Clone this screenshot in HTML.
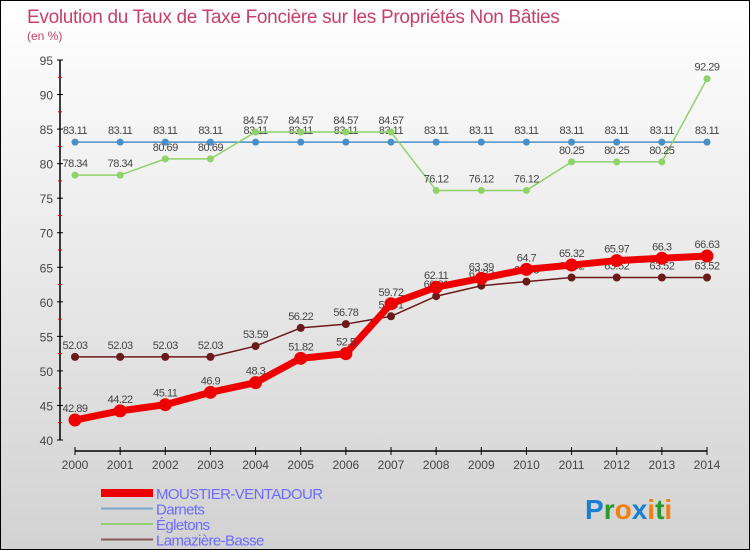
<!DOCTYPE html>
<html><head><meta charset="utf-8"><style>
html,body{margin:0;padding:0}
body{width:750px;height:550px;overflow:hidden;font-family:"Liberation Sans",sans-serif}
#wrap{position:relative;width:748px;height:548px;border:1px solid #000;background:linear-gradient(#fff,#d2d2d2)}
</style></head><body>
<div id="wrap">
<svg id="chart" width="748" height="548" style="position:absolute;left:0;top:0"></svg>
</div>
<script>
const years=["2000","2001","2002","2003","2004","2005","2006","2007","2008","2009","2010","2011","2012","2013","2014"];
const moustier=[42.89,44.22,45.11,46.9,48.3,51.82,52.5,59.72,62.11,63.39,64.7,65.32,65.97,66.3,66.63];
const darnets=[83.11,83.11,83.11,83.11,83.11,83.11,83.11,83.11,83.11,83.11,83.11,83.11,83.11,83.11,83.11];
const egletons=[78.34,78.34,80.69,80.69,84.57,84.57,84.57,84.57,76.12,76.12,76.12,80.25,80.25,80.25,92.29];
const lamaziere=[52.03,52.03,52.03,52.03,53.59,56.22,56.78,57.91,60.81,62.33,62.93,63.52,63.52,63.52,63.52];
const yTicks=[40,45,50,55,60,65,70,75,80,85,90,95];
const NS="http://www.w3.org/2000/svg";
const svg=document.getElementById('chart');
const X=i=>74+i*(632/14);
const Y=v=>439-(v-40)*(380/55);
function mk(t,a,p){const e=document.createElementNS(NS,t);for(const k in a)e.setAttribute(k,a[k]);(p||svg).appendChild(e);return e;}
function txt(x,y,s,a){const e=mk('text',Object.assign({x:x,y:y},a));e.textContent=s;return e;}
let t=txt(26,22,"Evolution du Taux de Taxe Foncière sur les Propriétés Non Bâties",{fill:"#c8406a","font-size":"19","letter-spacing":"-0.3"});

t=txt(26,39,"(en %)",{fill:"#c8406a","font-size":"12"});

let ax=mk('line',{x1:59,y1:Y(95),x2:59,y2:Y(40),stroke:"#000","stroke-width":1.5});

yTicks.forEach(v=>{mk('line',{x1:56,y1:Y(v),x2:62,y2:Y(v),stroke:"#000"});
 if(v<95)mk('line',{x1:57,y1:Y(v+2.5),x2:61,y2:Y(v+2.5),stroke:"#e00"});
 const l=txt(52,Y(v)+5,String(v),{fill:"#444","font-size":"12","text-anchor":"end"});
 });
ax=mk('line',{x1:X(0),y1:450,x2:X(14),y2:450,stroke:"#000","stroke-width":1.5});

years.forEach((y,i)=>{mk('line',{x1:X(i),y1:446,x2:X(i),y2:454,stroke:"#000"});
 const l=txt(X(i),468,y,{fill:"#444","font-size":"12","text-anchor":"middle"});
 });
function series(vals,color,w,r,name){
 const g=mk('g',{});
 mk('polyline',{points:vals.map((v,i)=>X(i)+","+Y(v)).join(" "),fill:"none",stroke:color,"stroke-width":w,"stroke-linejoin":"round"},g);
 vals.forEach((v,i)=>{const c=mk('circle',{cx:X(i),cy:Y(v),r:r,fill:color},g);
  
  const l=txt(X(i),Y(v)-8,String(v),{fill:"#444","font-size":"11","text-anchor":"middle","letter-spacing":"-0.5"},g);
  });
}
series(darnets,"#4a90c8",1.5,3.5,"darnets");
series(egletons,"#8fd26a",1.5,3.5,"egletons");
series(lamaziere,"#6b1a1a",1.5,4,"lamaziere-basse");
series(moustier,"#ee0000",7,6.5,"moustier-ventadour");
const leg=[["MOUSTIER-VENTADOUR","#ee0000",8],["Darnets","#7aa8cc",2],["Égletons","#90d070",2],["Lamazière-Basse","#8a5a5a",2]];
leg.forEach((e,i)=>{const g=mk('g',{});
 const y=492+i*15.5;mk('line',{x1:100,y1:y,x2:152,y2:y,stroke:e[1],"stroke-width":e[2]},g);
 txt(155,y+6,e[0],{fill:"#6b6bff","font-size":"15","letter-spacing":"-0.6"},g);});
const lg=mk('text',{x:584,y:518,"font-size":"28","font-weight":"bold"});

[["P","#1a7fd0"],["r","#2a9a2a"],["o","#f08010"],["x","#1a7fd0"],["i","#f08010"],["t","#2a9a2a"],["i","#f08010"]].forEach(c=>{const s=mk('tspan',{fill:c[1]},lg);s.textContent=c[0];});
</script>
</body></html>
